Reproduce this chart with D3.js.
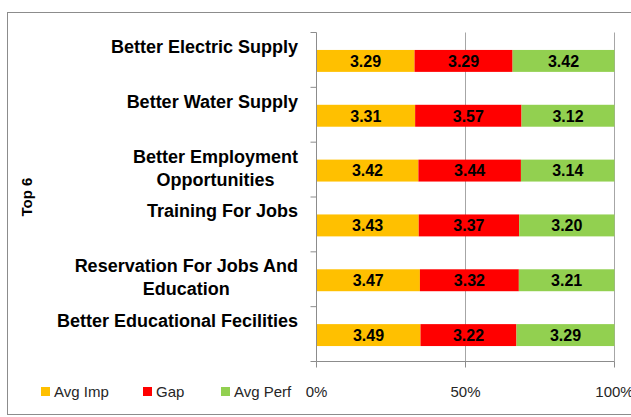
<!DOCTYPE html>
<html>
<head>
<meta charset="utf-8">
<script src="https://cdn.jsdelivr.net/npm/d3@7"></script>
<style>
  body { margin: 0; background: #fff; }
  svg { display: block; font-family: "Liberation Sans", Arial, sans-serif; }
</style>
</head>
<body>
<div id="chart"></div>
<script>
// chart values
var categories = [
  ["Better Electric Supply"],
  ["Better Water Supply"],
  ["Better Employment", "Opportunities"],
  ["Training For Jobs"],
  ["Reservation For Jobs And", "Education"],
  ["Better Educational Fecilities"]
];
var seriesNames = ["Avg Imp", "Gap", "Avg Perf"];
var avgImp  = [3.29, 3.31, 3.42, 3.43, 3.47, 3.49];
var gap     = [3.29, 3.57, 3.44, 3.37, 3.32, 3.22];
var avgPerf = [3.42, 3.12, 3.14, 3.20, 3.21, 3.29];
var xTicks = [0, 0.5, 1];
var colors = ["#FFC000", "#FF0000", "#92D050"];

var W = 631, H = 417;
var plotLeft = 316.5, plotRight = 614.5, plotTop = 32.5, plotBottom = 361.5;

var rows = categories.map(function(c, i) {
  return { key: i, "Avg Imp": avgImp[i], "Gap": gap[i], "Avg Perf": avgPerf[i] };
});

var svg = d3.select("#chart").append("svg")
    .attr("width", W)
    .attr("height", H);

// outer chart border (cropped on right and bottom)
svg.append("rect")
    .attr("x", 7.5).attr("y", 12.5)
    .attr("width", 700).attr("height", 402)
    .attr("fill", "none")
    .attr("stroke", "#8c8c8c");

var x = d3.scaleLinear().domain([0, 1]).range([plotLeft, plotRight]);
var y = d3.scaleBand().domain(d3.range(categories.length))
    .range([plotTop, plotBottom]).paddingInner(0.6).paddingOuter(0.3);

// vertical gridlines
svg.selectAll(".grid").data(xTicks.slice(1)).enter().append("line")
    .attr("class", "grid")
    .attr("x1", function(d) { return x(d); })
    .attr("x2", function(d) { return x(d); })
    .attr("y1", plotTop).attr("y2", plotBottom)
    .attr("stroke", "#a6a6a6");

var stack = d3.stack().keys(seriesNames).offset(d3.stackOffsetExpand);
var layers = stack(rows);

var g = svg.selectAll(".layer").data(layers).enter().append("g")
    .attr("class", "layer")
    .attr("fill", function(d, i) { return colors[i]; });

g.selectAll("rect").data(function(d) { return d; }).enter().append("rect")
    .attr("x", function(d) { return x(d[0]); })
    .attr("width", function(d) { return x(d[1]) - x(d[0]); })
    .attr("y", function(d) { return y(d.data.key) + 1; })
    .attr("height", y.bandwidth());

// value labels
layers.forEach(function(layer) {
  svg.append("g").selectAll("text").data(layer).enter().append("text")
      .attr("x", function(d) { return (x(d[0]) + x(d[1])) / 2; })
      .attr("y", function(d) { return y(d.data.key) + 1 + y.bandwidth() / 2; })
      .attr("dy", "0.36em")
      .attr("text-anchor", "middle")
      .style("font-size", "16px")
      .style("font-weight", "bold")
      .attr("fill", "#000")
      .text(function(d) { return d.data[layer.key].toFixed(2); });
});

// left axis line with ticks at band boundaries
svg.append("line")
    .attr("x1", plotLeft).attr("x2", plotLeft).attr("y1", plotTop).attr("y2", plotBottom)
    .attr("stroke", "#8c8c8c");
var bounds = d3.range(categories.length + 1).map(function(i) { return plotTop + i * y.step(); });
svg.selectAll(".ytick").data(bounds).enter().append("line")
    .attr("class", "ytick")
    .attr("x1", plotLeft - 6).attr("x2", plotLeft)
    .attr("y1", function(d) { return d; }).attr("y2", function(d) { return d; })
    .attr("stroke", "#8c8c8c");

// bottom axis
svg.append("line")
    .attr("x1", plotLeft).attr("x2", plotRight).attr("y1", plotBottom).attr("y2", plotBottom)
    .attr("stroke", "#8c8c8c");
svg.selectAll(".xtick").data(xTicks).enter().append("line")
    .attr("class", "xtick")
    .attr("x1", function(d) { return x(d); }).attr("x2", function(d) { return x(d); })
    .attr("y1", plotBottom).attr("y2", plotBottom + 6)
    .attr("stroke", "#8c8c8c");
svg.selectAll(".xlab").data(xTicks).enter().append("text")
    .attr("class", "xlab")
    .attr("x", function(d) { return x(d); })
    .attr("y", 392)
    .attr("dy", "0.36em")
    .attr("text-anchor", "middle")
    .style("font-size", "15px")
    .attr("fill", "#262626")
    .text(function(d) { return d3.format(".0%")(d); });

// category labels: block right-aligned at 298, lines centred within the block
var labelRight = 298;
categories.forEach(function(lines, i) {
  var cy = y(i) + 1 + y.bandwidth() / 2 - 14.5;
  var t = svg.append("text")
      .attr("text-anchor", "middle")
      .style("font-size", "18px")
      .style("font-weight", "bold")
      .attr("fill", "#000");
  var spans = lines.map(function(line, j) {
    return t.append("tspan")
        .attr("y", cy + j * 23)
        .attr("dy", "0.36em")
        .text(line);
  });
  var maxW = d3.max(spans, function(s) { return s.node().getComputedTextLength(); });
  spans.forEach(function(s) { s.attr("x", labelRight - maxW / 2); });
});

// axis title
svg.append("text")
    .attr("transform", "translate(27,197) rotate(-90)")
    .attr("text-anchor", "middle")
    .attr("dy", "0.36em")
    .style("font-size", "15px")
    .style("font-weight", "bold")
    .text("Top 6");

// legend
var legendX = [41, 143, 221];
var leg = svg.selectAll(".legend").data(seriesNames).enter().append("g")
    .attr("class", "legend")
    .attr("transform", function(d, i) { return "translate(" + legendX[i] + ",392)"; });
leg.append("rect")
    .attr("x", 0).attr("y", -5)
    .attr("width", 9).attr("height", 9)
    .attr("fill", function(d, i) { return colors[i]; });
leg.append("text")
    .attr("x", 13)
    .attr("dy", "0.36em")
    .style("font-size", "15px")
    .attr("fill", "#262626")
    .text(function(d) { return d; });
</script>
</body>
</html>
